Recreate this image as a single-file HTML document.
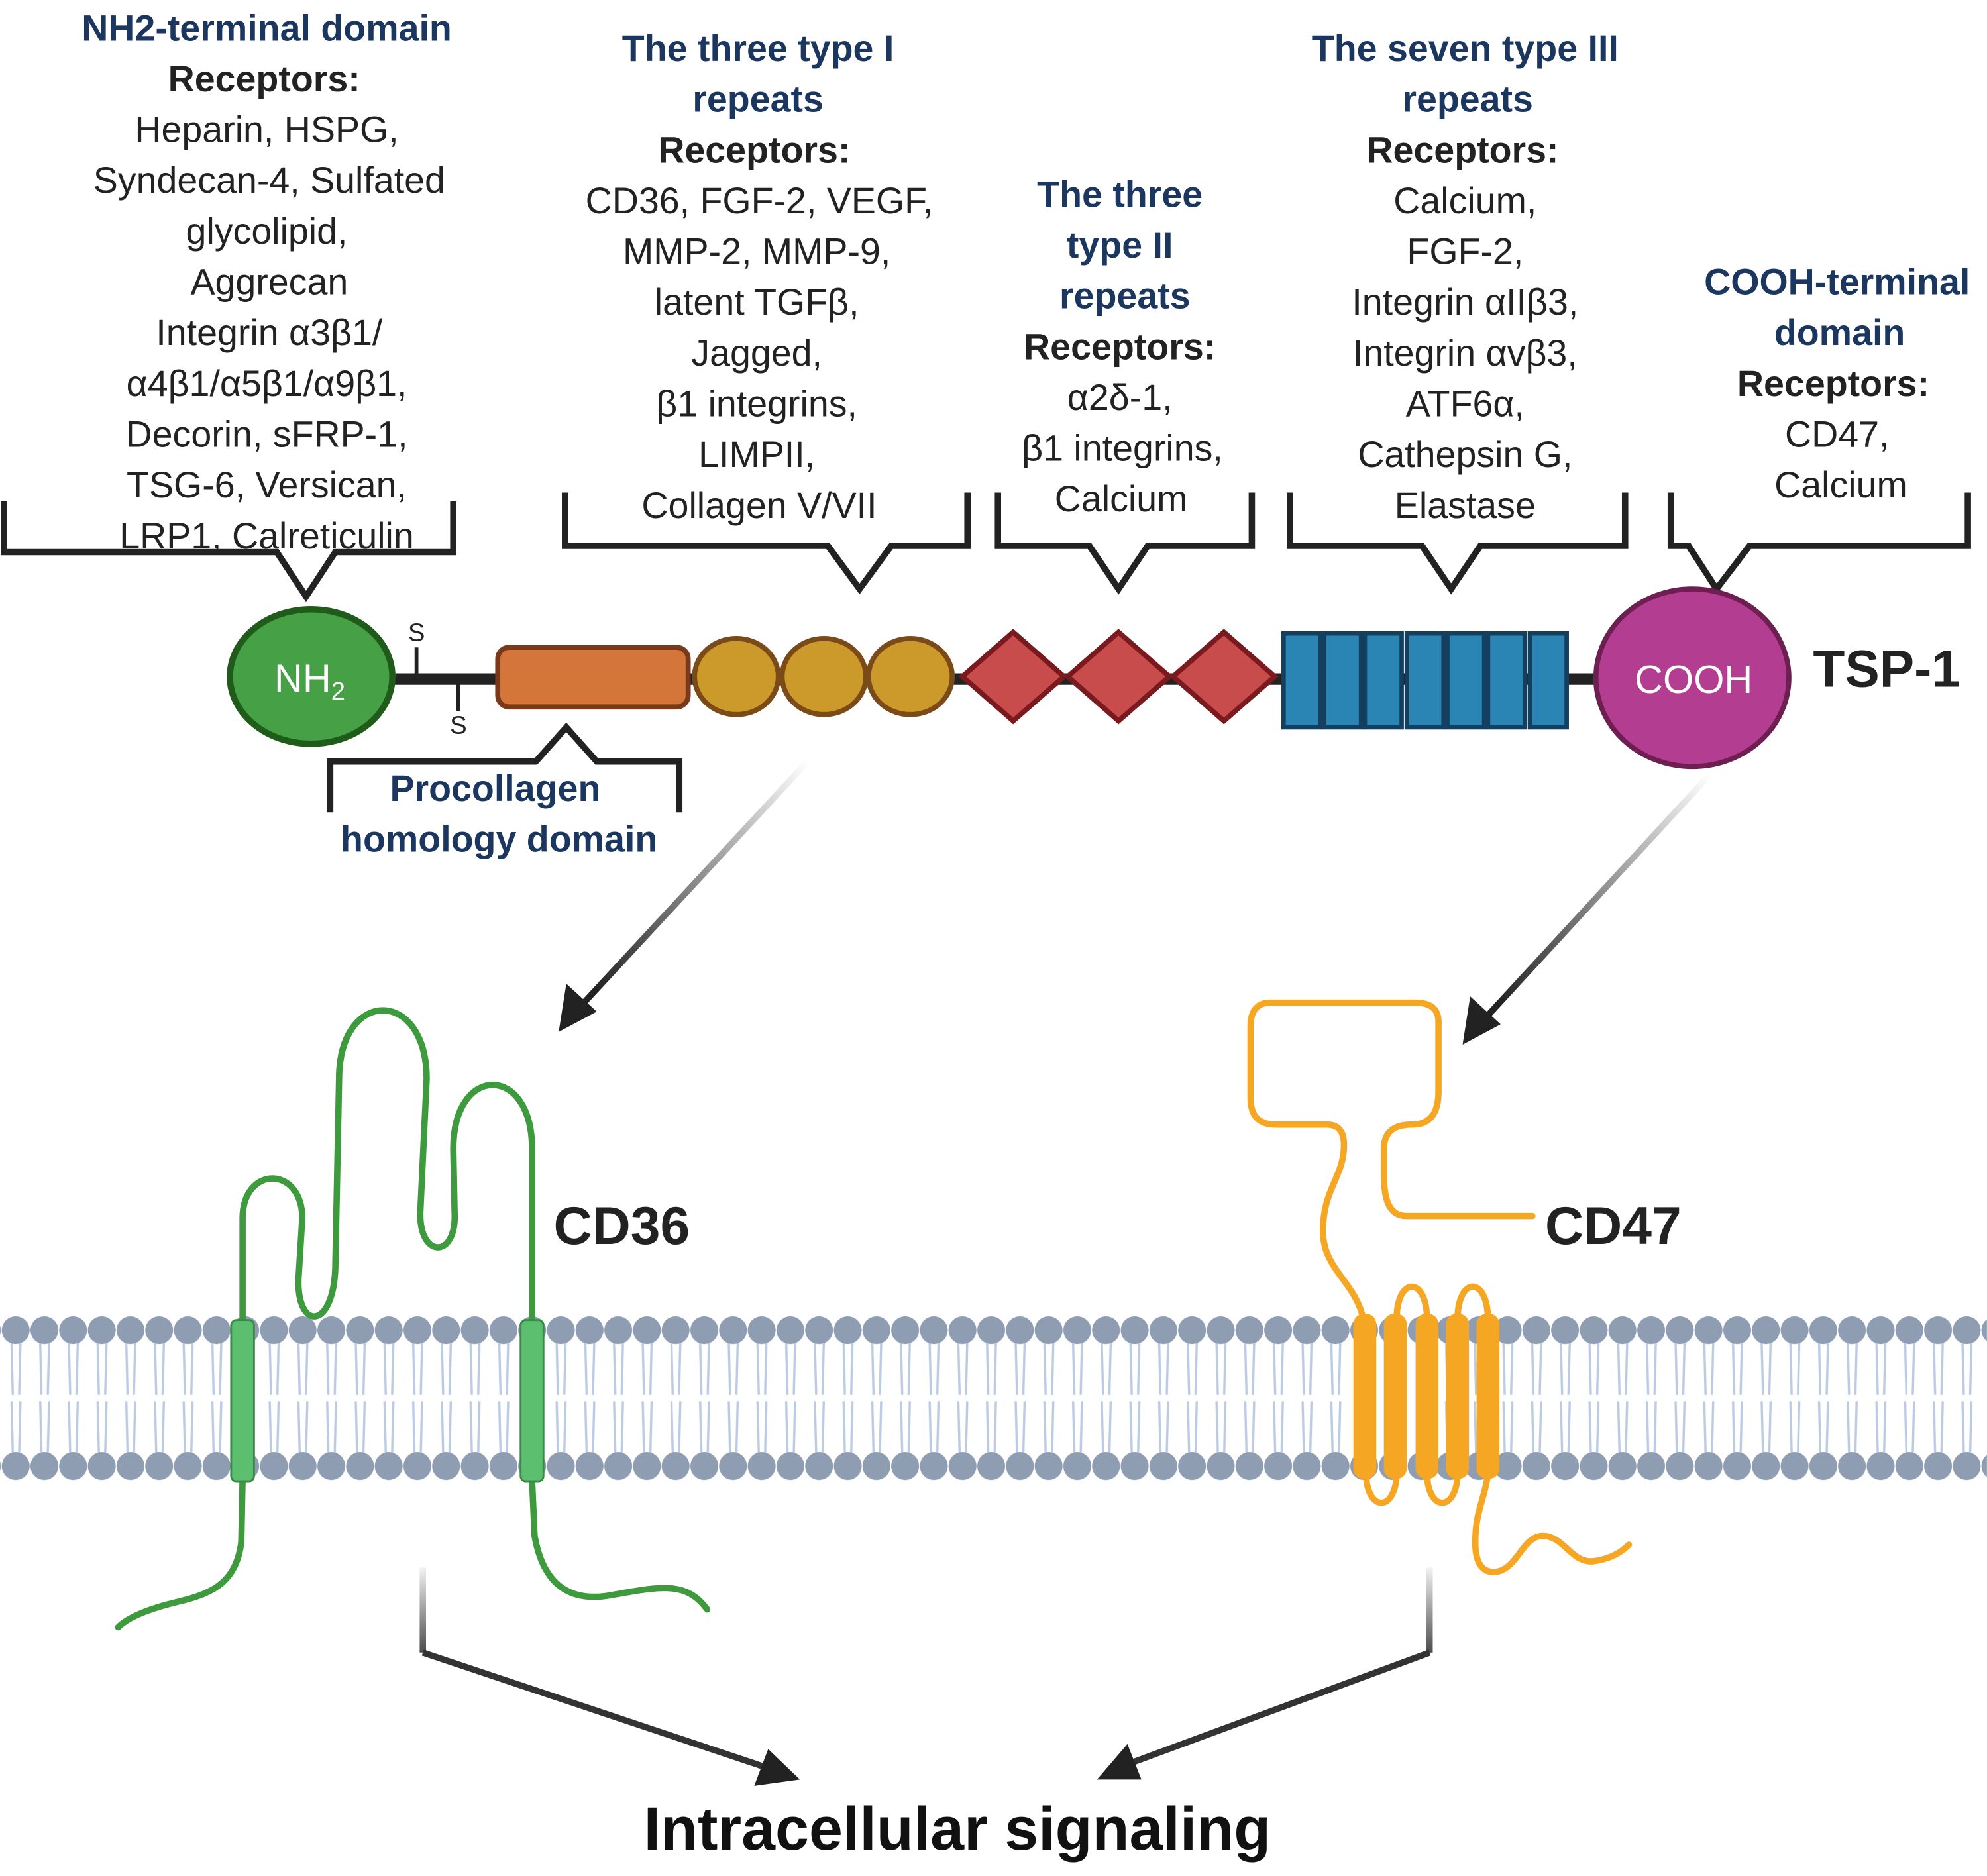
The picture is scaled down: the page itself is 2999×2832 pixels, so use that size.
<!DOCTYPE html>
<html><head><meta charset="utf-8"><style>
html,body{margin:0;padding:0;background:#fff;}
svg{display:block;}
text{font-family:"Liberation Sans",sans-serif;}
.t{fill:#1b365f;font-weight:bold;font-size:29px;}
.r{fill:#222;font-weight:bold;font-size:29px;}
.n{fill:#222;font-size:29px;}
</style></head><body>
<svg width="2999" height="2832" viewBox="0 0 1565 1478" xmlns="http://www.w3.org/2000/svg">
<defs>
<pattern id="tails" x="1" y="1058" width="22.6" height="46" patternUnits="userSpaceOnUse">
<path d="M8,0 L9,41 M15,0 L14,41" stroke="#bccbe3" stroke-width="1.8" fill="none"/>
</pattern>
<pattern id="heads" x="1" y="1037" width="22.6" height="22" patternUnits="userSpaceOnUse">
<ellipse cx="11.3" cy="11" rx="11" ry="11" fill="#8f9db3"/>
</pattern>
<pattern id="heads2" x="1" y="1144" width="22.6" height="22" patternUnits="userSpaceOnUse">
<ellipse cx="11.3" cy="11" rx="11" ry="11" fill="#8f9db3"/>
</pattern>
<linearGradient id="g1" gradientUnits="userSpaceOnUse" x1="636" y1="600" x2="470" y2="780"><stop offset="0" stop-color="#fff"/><stop offset="1" stop-color="#222"/></linearGradient>
<linearGradient id="g2" gradientUnits="userSpaceOnUse" x1="1347" y1="610" x2="1180" y2="790"><stop offset="0" stop-color="#fff"/><stop offset="1" stop-color="#222"/></linearGradient>
<linearGradient id="g3" gradientUnits="userSpaceOnUse" x1="0" y1="1230" x2="0" y2="1305"><stop offset="0" stop-color="#fff"/><stop offset="1" stop-color="#444"/></linearGradient>
</defs>

<!-- text blocks -->
<g text-anchor="middle">
<text class="t" x="210" y="32">NH2-terminal domain</text>
<text class="r" x="208" y="72">Receptors:</text>
<text class="n" x="210" y="112">Heparin, HSPG,</text>
<text class="n" x="212" y="152">Syndecan-4, Sulfated</text>
<text class="n" x="210" y="192">glycolipid,</text>
<text class="n" x="212" y="232">Aggrecan</text>
<text class="n" x="212" y="272">Integrin α3β1/</text>
<text class="n" x="210" y="312">α4β1/α5β1/α9β1,</text>
<text class="n" x="210" y="352">Decorin, sFRP-1,</text>
<text class="n" x="210" y="392">TSG-6, Versican,</text>
<text class="n" x="210" y="432">LRP1, Calreticulin</text>

<text class="t" x="597" y="48">The three type I</text>
<text class="t" x="597" y="88">repeats</text>
<text class="r" x="594" y="128">Receptors:</text>
<text class="n" x="598" y="168">CD36, FGF-2, VEGF,</text>
<text class="n" x="596" y="208">MMP-2, MMP-9,</text>
<text class="n" x="596" y="248">latent TGFβ,</text>
<text class="n" x="596" y="288">Jagged,</text>
<text class="n" x="596" y="328">β1 integrins,</text>
<text class="n" x="596" y="368">LIMPII,</text>
<text class="n" x="598" y="408">Collagen V/VII</text>

<text class="t" x="882" y="163">The three</text>
<text class="t" x="882" y="203">type II</text>
<text class="t" x="886" y="243">repeats</text>
<text class="r" x="882" y="283">Receptors:</text>
<text class="n" x="882" y="323">α2δ-1,</text>
<text class="n" x="884" y="363">β1 integrins,</text>
<text class="n" x="883" y="403">Calcium</text>

<text class="t" x="1154" y="48">The seven type III</text>
<text class="t" x="1156" y="88">repeats</text>
<text class="r" x="1152" y="128">Receptors:</text>
<text class="n" x="1154" y="168">Calcium,</text>
<text class="n" x="1154" y="208">FGF-2,</text>
<text class="n" x="1154" y="248">Integrin αIIβ3,</text>
<text class="n" x="1154" y="288">Integrin αvβ3,</text>
<text class="n" x="1154" y="328">ATF6α,</text>
<text class="n" x="1154" y="368">Cathepsin G,</text>
<text class="n" x="1154" y="408">Elastase</text>

<text class="t" x="1447" y="232">COOH-terminal</text>
<text class="t" x="1449" y="272">domain</text>
<text class="r" x="1444" y="312">Receptors:</text>
<text class="n" x="1447" y="352">CD47,</text>
<text class="n" x="1450" y="392">Calcium</text>

<text class="t" x="390" y="631">Procollagen</text>
<text class="t" x="393" y="671">homology domain</text>
</g>

<!-- brackets -->
<g fill="none" stroke="#222" stroke-width="5" stroke-linejoin="miter">
<path d="M3,395 L3,435 L218,435 L241,470 L264,435 L357,435 L357,395"/>
<path d="M445,388 L445,430 L652,430 L677,464 L702,430 L762,430 L762,388"/>
<path d="M786,388 L786,430 L858,430 L881,464 L904,430 L986,430 L986,388"/>
<path d="M1016,388 L1016,430 L1120,430 L1143,464 L1166,430 L1280,430 L1280,388"/>
<path d="M1316,388 L1316,430 L1330,430 L1352,464 L1378,430 L1550,430 L1550,388"/>
<path d="M260,640 L260,600 L422,600 L446,573 L470,600 L535,600 L535,640"/>
</g>

<!-- TSP-1 backbone -->
<line x1="305" y1="535" x2="1260" y2="535" stroke="#222" stroke-width="9"/>
<g stroke="#222" stroke-width="3"><line x1="328" y1="510" x2="328" y2="532"/><line x1="361" y1="538" x2="361" y2="560"/></g>
<text x="328" y="505" font-size="20" text-anchor="middle" fill="#222">S</text>
<text x="361" y="578" font-size="20" text-anchor="middle" fill="#222">S</text>
<ellipse cx="245" cy="533" rx="64" ry="53" fill="#46a046" stroke="#1f5c1a" stroke-width="5"/>
<text x="216" y="545" font-size="31" fill="#fff">NH<tspan font-size="20" dy="6">2</tspan></text>
<rect x="392" y="510" width="150" height="47" rx="9" fill="#d4763a" stroke="#7a3a1a" stroke-width="4"/>
<g fill="#cc9a2a" stroke="#7a4a18" stroke-width="4">
<ellipse cx="580" cy="533" rx="33" ry="30"/><ellipse cx="649" cy="533" rx="33" ry="30"/><ellipse cx="717" cy="533" rx="33" ry="30"/>
</g>
<g fill="#c94c4c" stroke="#7a1a1e" stroke-width="4">
<path d="M758,533 L798,498 L838,533 L798,568Z"/><path d="M841,533 L881,498 L921,533 L881,568Z"/><path d="M924,533 L964,498 L1004,533 L964,568Z"/>
</g>
<g fill="#2a85b5" stroke="#143f5e" stroke-width="3.5">
<rect x="1011" y="499" width="29" height="74"/><rect x="1043" y="499" width="29" height="74"/><rect x="1075" y="499" width="29" height="74"/><rect x="1108" y="499" width="29" height="74"/><rect x="1140" y="499" width="29" height="74"/><rect x="1172" y="499" width="29" height="74"/><rect x="1205" y="499" width="29" height="74"/>
</g>
<ellipse cx="1333" cy="534" rx="76" ry="70" fill="#b33d90" stroke="#6e1e50" stroke-width="4"/>
<text x="1334" y="546" font-size="31" fill="#fff" text-anchor="middle">COOH</text>
<text x="1428" y="541" font-size="41" font-weight="bold" fill="#222">TSP-1</text>

<!-- arrows -->
<line x1="636" y1="600" x2="458" y2="792" stroke="url(#g1)" stroke-width="5"/>
<path d="M440,813 L446,775 L470,797Z" fill="#222"/>
<line x1="1347" y1="610" x2="1170" y2="802" stroke="url(#g2)" stroke-width="5"/>
<path d="M1152,823 L1158,785 L1182,807Z" fill="#222"/>

<!-- membrane -->
<rect x="0" y="1058" width="1565" height="87" fill="url(#tails)"/>
<rect x="0" y="1037" width="1565" height="22" fill="url(#heads)"/>
<rect x="0" y="1144" width="1565" height="22" fill="url(#heads2)"/>

<!-- CD36 -->
<g fill="none" stroke="#3d9a3d" stroke-width="5" stroke-linecap="round">
<path d="M191,1040 L191,960 C191,918 238,918 238,960 L235,1008 C234,1048 262,1048 264,1000 L267,850 C267,778 336,778 336,850 L331,955 C330,992 360,992 358,955 L357,905 C357,838 419,838 419,905 L419,1040"/>
<path d="M191,1165 L190,1215 C186,1245 170,1255 140,1262 C115,1268 100,1275 93,1282"/>
<path d="M419,1165 L421,1210 C428,1250 450,1262 480,1257 C520,1250 540,1245 557,1268"/>
</g>
<rect x="182" y="1040" width="18" height="127" rx="4" fill="#5bbf6f" stroke="#3a8a48" stroke-width="1.5"/>
<rect x="410" y="1040" width="18" height="127" rx="4" fill="#5bbf6f" stroke="#3a8a48" stroke-width="1.5"/>
<text x="436" y="980" font-size="42" font-weight="bold" fill="#222">CD36</text>

<!-- CD47 -->
<g fill="none" stroke="#f5a623" stroke-width="5" stroke-linecap="round" stroke-linejoin="round">
<path d="M1207,958 L1108,958 C1094,958 1090,945 1090,925 L1090,905 C1090,892 1098,886 1112,886 C1128,886 1133,875 1133,860 L1133,805 C1133,795 1127,790 1115,790 L1000,790 C990,790 985,797 985,808 L985,865 C985,880 992,886 1005,886 L1045,886 C1057,886 1060,895 1058,910 C1055,930 1042,940 1042,970 C1042,1000 1068,1010 1074,1040"/>
<path d="M1100,1040 C1100,1005 1124,1005 1124,1040"/>
<path d="M1148,1040 C1148,1005 1172,1005 1172,1040"/>
<path d="M1076,1160 C1076,1192 1100,1192 1100,1160"/>
<path d="M1124,1160 C1124,1192 1148,1192 1148,1160"/>
<path d="M1172,1160 C1170,1180 1162,1190 1162,1215 C1162,1235 1170,1240 1180,1238 C1195,1235 1200,1210 1215,1210 C1232,1210 1238,1232 1255,1230 C1270,1228 1278,1222 1283,1217"/>
</g>
<g fill="#f5a623">
<rect x="1066" y="1035" width="18" height="130" rx="8"/><rect x="1090" y="1035" width="18" height="130" rx="8"/><rect x="1115" y="1035" width="18" height="130" rx="8"/><rect x="1139" y="1035" width="18" height="130" rx="8"/><rect x="1163" y="1035" width="18" height="130" rx="8"/>
</g>
<text x="1217" y="980" font-size="42" font-weight="bold" fill="#222">CD47</text>

<!-- bottom arrows -->
<g fill="none" stroke-width="5">
<path d="M333,1235 L333,1302" stroke="url(#g3)"/>
<path d="M333,1302 L605,1393" stroke="#333"/>
<path d="M1126,1235 L1126,1302" stroke="url(#g3)"/>
<path d="M1126,1302 L888,1390" stroke="#333"/>
</g>
<path d="M630,1402 L594,1407 L605,1378Z" fill="#222"/>
<path d="M864,1402 L888,1374 L899,1402Z" fill="#222"/>
<text x="754" y="1457" font-size="48" font-weight="bold" fill="#111" text-anchor="middle" textLength="494" lengthAdjust="spacingAndGlyphs">Intracellular signaling</text>
</svg>
</body></html>
